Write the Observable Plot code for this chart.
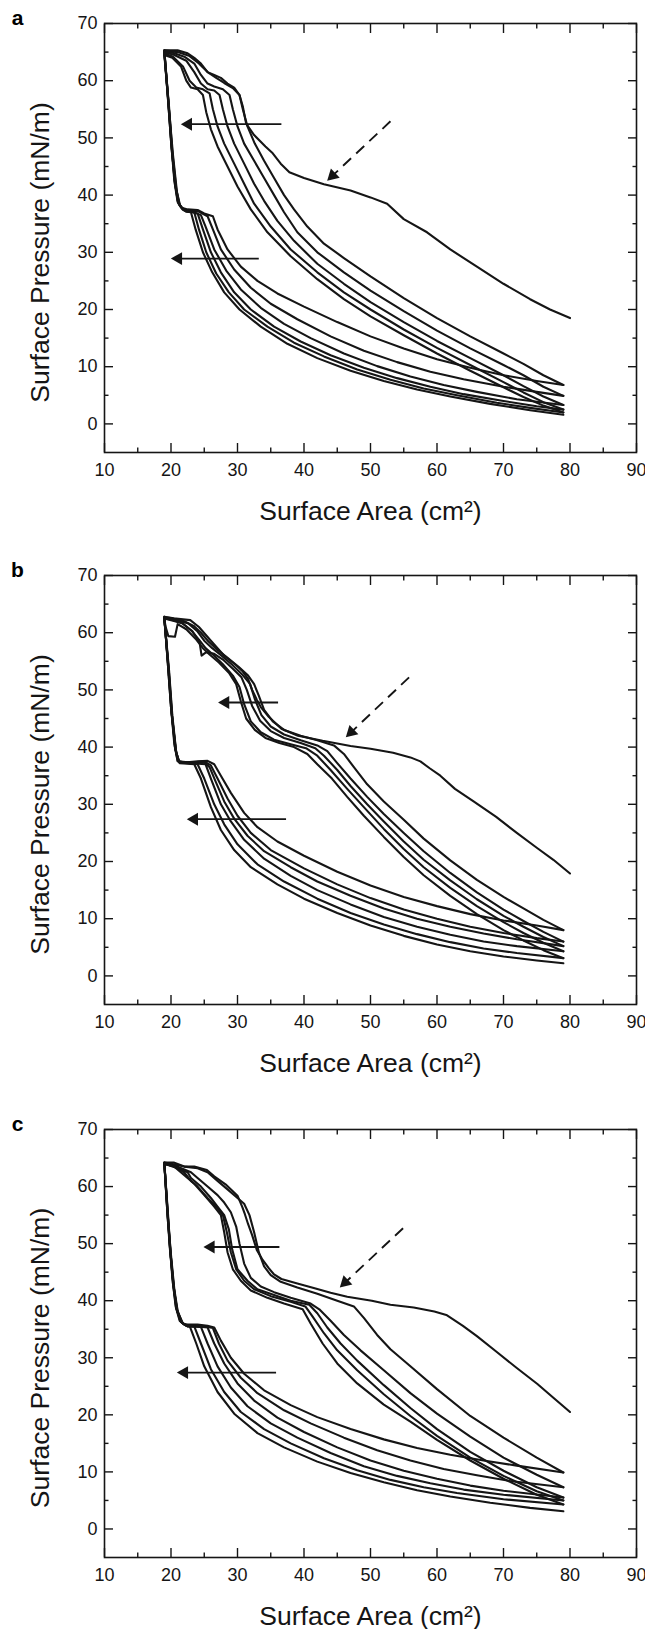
<!DOCTYPE html>
<html>
<head>
<meta charset="utf-8">
<script src="https://cdn.jsdelivr.net/npm/d3@7"></script>
<script src="https://cdn.jsdelivr.net/npm/@observablehq/plot@0.6"></script>
<style>
  html, body { margin: 0; padding: 0; background: #fff; }
  #chart { width: 645px; }
  #chart svg { display: block; }
</style>
</head>
<body>
<div id="chart"></div>
<script>
// ---------- axis ticks ----------
const xMajor = [10, 20, 30, 40, 50, 60, 70, 80, 90];
const xMinor = [15, 25, 35, 45, 55, 65, 75, 85];
const yMajor = [0, 10, 20, 30, 40, 50, 60, 70];
const yMinor = [5, 15, 25, 35, 45, 55, 65];
const panelLabels = ["a", "b", "c"];
const xTitle = "Surface Area (cm²)";
const yTitle = "Surface Pressure (mN/m)";

// ---------- panel a : [area, pressure] ----------
const a_C1 = [[80,18.5],[77,20],[74,21.8],[70,24.5],[66,27.5],[62,30.5],[58.5,33.5],[55,35.8],[52.5,38.5],[50,39.6],[47,40.8],[43,41.9],[40,43],[37.8,44],[36.5,45.5],[35.3,47.3],[34.2,48.5],[32.5,50.5],[31.3,52.5],[30.8,55.5],[30.3,57.5],[29.5,58.8],[28.5,59.5],[27.5,60.5],[26.5,61],[25.5,61.5],[24.5,63],[23.5,64],[22.5,64.8],[21,65.3],[19,65.3]];
const a_C2 = [[79,6.8],[76,8.5],[73,10.5],[70,12.3],[65,15.3],[60,18.5],[55,22],[50,25.8],[46,29],[43,31.5],[40.5,34.5],[38.5,37.5],[37,40],[35.5,43],[34,46],[32.6,49],[31.5,52],[30.8,55],[30.3,57.5],[29.3,58.7],[28,59.6],[26.8,60.5],[25.5,61.5],[24.2,63],[22.8,64.3],[21,65],[19,65.3]];
const a_C3 = [[79,4.9],[76,6.5],[73,8.5],[70,10.3],[65,13.2],[60,16.3],[55,19.7],[50,23.3],[46,26.5],[42,30],[39,33.5],[37,37],[35.5,40],[34,43],[32.5,46],[31,49],[30,52],[29.3,55],[28.8,57.5],[27.8,58.5],[26.5,59],[25.5,59.5],[24.5,61],[23.5,63],[22,64.2],[20.5,64.8],[19,65.2]];
const a_C4 = [[79,3.3],[76,4.8],[73,6.6],[70,8.5],[65,11.5],[60,14.5],[55,17.8],[50,21.3],[46,24.5],[42,28],[38.5,32],[36,35.5],[34,39],[32.5,42],[31,45.5],[29.5,49],[28.5,52],[27.8,55],[27.3,57.5],[26.5,58.3],[25.5,58.5],[24.5,59.5],[23.5,61.5],[22.3,63.5],[20.5,64.5],[19,65]];
const a_C5 = [[79,2.5],[76,3.8],[73,5.5],[70,7.3],[65,10.3],[60,13.3],[55,16.5],[50,20],[46,23],[42,26.5],[38,30.5],[35,34.5],[32.5,38.5],[31,42],[29.5,45.5],[28,49],[27,52],[26.3,55],[25.8,57.8],[24.8,58.5],[23.8,58.8],[22.8,60],[21.8,62.5],[20.3,64.2],[19,64.8]];
const a_C6 = [[79,2.0],[76,3.2],[73,4.7],[70,6.4],[65,9.3],[60,12.3],[55,15.5],[50,18.8],[46,21.8],[42,25.3],[38,29.3],[34.5,33.5],[32,37.5],[30,41.5],[28.5,45],[27,48.5],[26,51.5],[25.3,54.5],[24.8,57.5],[24,58.5],[23,58.8],[22.3,60],[21.5,62.5],[20.2,64],[19,64.5]];
const a_E1 = [[19,65.3],[19.5,58],[20,50],[20.5,43],[21,39],[21.6,37.8],[22.5,37.5],[24,37.4],[25,36.8],[26.3,36.3],[27,34],[28.5,30.5],[30.5,27.5],[33,25],[36,22.8],[40,20.5],[45,17.8],[50,15.3],[55,13.2],[60,11.3],[65,9.8],[70,8.5],[75,7.5],[79,6.8]];
const a_E2 = [[19,65.2],[19.5,57.5],[20,49.5],[20.5,42.5],[21,38.8],[21.7,37.6],[22.5,37.3],[24,37.2],[25.5,36.3],[26.3,34],[27.5,30.5],[29.5,27],[32,23.8],[35,21],[39,18.3],[44,15.3],[49,12.8],[54,10.8],[59,9.1],[64,7.8],[70,6.5],[75,5.6],[79,4.9]];
const a_E3 = [[19,65.1],[19.6,56.5],[20.1,48.5],[20.6,42],[21.1,38.6],[21.8,37.4],[23,37.2],[24.5,36.5],[25.2,34.5],[26.5,30.5],[28.3,26.8],[30.5,23.5],[33.5,20.3],[37,17.5],[41,15],[46,12.3],[51,10.1],[56,8.3],[61,6.8],[66,5.6],[72,4.3],[79,3.3]];
const a_E4 = [[19,65],[19.6,56],[20.1,48],[20.7,41.5],[21.2,38.4],[22,37.3],[24,36.8],[24.8,34],[26,30],[27.5,26.5],[29.5,23],[32,20],[35.5,17],[39.5,14.4],[44,12],[49,9.8],[54,8],[59,6.5],[64,5.2],[70,4],[75,3.1],[79,2.5]];
const a_E5 = [[19,64.8],[19.7,55.5],[20.2,47.5],[20.8,41],[21.3,38.2],[22.2,37.2],[23.5,37],[24.2,34],[25.3,30],[26.8,26.3],[28.7,23],[31,20],[34.5,17],[38.5,14.2],[43,11.8],[48,9.5],[53,7.7],[58,6.2],[63,5],[69,3.7],[74,2.8],[79,2.0]];
const a_E6 = [[19,64.5],[19.7,55],[20.3,47],[20.9,40.5],[21.4,38],[22.3,37.1],[23,37],[23.7,34],[24.8,30],[26.2,26.5],[28,23],[30.3,20],[33.5,17],[37.5,14],[42,11.5],[47,9.3],[52,7.5],[57,6],[62,4.8],[68,3.5],[74,2.4],[79,1.6]];
const a_solidArrows = [{x1: 36.6, y1: 52.4, x2: 22.6, y2: 52.4}, {x1: 33.2, y1: 28.9, x2: 21.1, y2: 28.9}];
const a_dashArrow = [{x1: 53, y1: 52.9, x2: 44.3, y2: 43.4}];

// ---------- panel b ----------
const b_C1 = [[80,17.9],[77.5,20.3],[75,22.4],[72,25],[68.9,27.8],[65.5,30.5],[62.7,32.7],[60.5,35],[58.9,36.3],[57.5,37.5],[56,38.2],[53.4,39],[50,39.7],[47,40.2],[42.8,41.1],[39.1,42],[36.6,43.2],[34.7,45.3],[33.5,47],[32.9,48.3],[32.2,50],[31.6,51.9],[30.8,53.2],[29.8,54.3],[27.9,56.1],[26,58.6],[24.2,61],[22.9,62.2],[20.4,62.5],[19,62.8]];
const b_C2 = [[79,8.0],[76,9.8],[73,11.8],[70,13.8],[66,16.8],[62,20.2],[58,24],[55,27.3],[52,30.5],[49.5,33.5],[47.5,36.5],[46,38.8],[44.5,40.3],[42,41.2],[39.5,42],[37,43],[35.3,44.5],[34,46.5],[33.2,49],[32.5,51],[31.6,52.5],[30.2,54],[28.6,55.5],[27,57],[25.6,58.5],[24.5,60],[23.4,61.2],[22,62],[20.3,62.5],[19,62.7]];
const b_C3 = [[79,6.0],[76,7.7],[73,9.6],[70,11.6],[66,14.6],[62,18],[58,21.8],[55,25],[52,28.3],[49.5,31.3],[47,34.5],[45,37.2],[43.5,39.3],[42,40.3],[39.5,41.2],[37,42.2],[35,43.6],[33.6,45.6],[32.6,48.4],[31.9,51],[30.7,52.7],[29.2,54.4],[27.6,56],[26.2,57.3],[25,58.6],[24,60.2],[22.6,61.6],[20.6,62.3],[19,62.6]];
const b_C4 = [[79,5.2],[76,6.8],[73,8.6],[70,10.5],[66,13.4],[62,16.7],[58,20.3],[55,23.5],[52,27],[49.5,30],[47,33.2],[45,36],[43,38.5],[41.7,39.8],[39.5,40.7],[37,41.6],[35,42.8],[33.4,44.6],[32.2,47.2],[31.4,50],[30.6,52.2],[29.3,53.7],[27.8,55.3],[26.5,56.3],[25.3,56.6],[24.6,56],[24.3,58.3],[23.2,60.3],[21.6,61.7],[19,62.5]];
const b_C5 = [[79,4.3],[76,5.8],[73,7.5],[70,9.4],[66,12.2],[62,15.4],[58,19],[55,22.2],[52,25.7],[49,29.5],[46.5,32.7],[44,36],[42,38.5],[40.3,39.8],[38,40.5],[35.5,41.3],[33.5,42.6],[32,44.5],[31,47.5],[30.3,50.5],[29.3,52.5],[27.8,54.5],[26.3,56.2],[25.2,57.3],[24.2,58.8],[23.2,60.2],[21.8,61.6],[20,62.3],[19,62.5]];
const b_C6 = [[79,3.1],[76,4.5],[73,6.2],[70,8],[66,10.8],[62,14],[58,17.6],[55,20.8],[52,24.3],[49,28],[46.5,31.3],[44.2,34.5],[42,37],[40.5,38.8],[38.5,40],[36.3,40.7],[34.2,41.6],[32.6,43],[31.3,45],[30.5,48],[29.8,51],[28.7,53],[27.2,54.8],[25.8,56.2],[24.8,57.3],[23.8,58.8],[22.3,60.6],[21,61.5],[20.6,59.3],[19.6,59.4],[19.2,61],[19,62.3]];
const b_E1 = [[19,62.8],[19.5,55],[20,47],[20.5,40.5],[21,37.6],[22,37.3],[24,37.5],[25.5,37.6],[26.5,37],[27.5,35],[29,32],[31,28.5],[33,26],[36,23.5],[40,21],[45,18.2],[50,15.8],[55,13.8],[60,12.2],[65,10.8],[70,9.7],[75,8.8],[79,8.0]];
const b_E2 = [[19,62.7],[19.5,55],[20,47],[20.6,40],[21,37.5],[23,37.3],[25,37.5],[26,36.8],[27,34.5],[28.5,31],[30,28],[32,25],[35,22],[40,18.8],[45,16],[50,13.6],[55,11.6],[60,10],[65,8.6],[70,7.5],[75,6.6],[79,6.0]];
const b_E3 = [[19,62.6],[19.6,54],[20.1,46],[20.7,39.5],[21.2,37.4],[23,37.3],[25,37.3],[25.8,36.5],[26.7,34],[28,30.5],[29.5,27.5],[31.5,24.5],[34,21.8],[38,19],[42,16.5],[47,14],[52,11.8],[57,10],[62,8.6],[67,7.4],[72,6.4],[79,5.2]];
const b_E4 = [[19,62.5],[19.6,54],[20.1,46],[20.7,39.5],[21.2,37.4],[23,37.2],[25.2,37],[26,34.5],[27.5,30],[29,27],[31,23.8],[34,20.5],[38,17.5],[42,15],[47,12.5],[52,10.3],[57,8.6],[62,7.2],[67,6],[72,5.2],[79,4.3]];
const b_E5 = [[19,62.5],[19.7,53.5],[20.2,45.5],[20.8,39],[21.3,37.3],[22.5,37.2],[24,37],[25,34.5],[26.5,30],[28,26.5],[30,23],[33,19.5],[37,16.5],[42,13.5],[47,11],[52,9],[57,7.3],[62,5.9],[67,4.8],[72,4],[79,3.1]];
const b_E6 = [[19,62.3],[19.7,53],[20.2,45],[20.8,38.8],[21.3,37.2],[22.5,37.1],[23.5,37],[24.5,34.5],[26,29.5],[27.5,25.5],[29.5,22],[32,19],[36,16],[40,13.5],[45,11],[50,8.8],[55,7],[60,5.5],[65,4.3],[70,3.4],[75,2.7],[79,2.2]];
const b_solidArrows = [{x1: 36.1, y1: 47.8, x2: 28.2, y2: 47.8}, {x1: 37.3, y1: 27.4, x2: 23.5, y2: 27.4}];
const b_dashArrow = [{x1: 55.8, y1: 52.2, x2: 47.1, y2: 42.6}];

// ---------- panel c ----------
const c_C1 = [[80,20.5],[77.5,23],[75.1,25.4],[72,28.2],[68.9,31.1],[66,33.8],[63.9,35.6],[61.4,37.5],[59.6,38.1],[56.5,38.8],[53,39.3],[50.2,40],[46.5,40.7],[44,41.4],[41.6,42.2],[39,43],[36.6,43.8],[35.5,44.6],[34.7,45.7],[33.7,47.3],[32.9,48.9],[32.2,51.5],[31.6,53.4],[31.1,55.2],[30.7,56.5],[30,58.4],[28.2,60.4],[26.5,61.8],[25.4,62.9],[23.5,63.5],[22,63.5],[20.4,64.2],[19,64.2]];
const c_C2 = [[79,9.9],[75,12.5],[70,16],[65,19.8],[60,24.5],[56,28.5],[53,31.5],[51,34],[49,37],[47.5,39],[45,40],[42,41.2],[39,42.3],[36.5,43.3],[35,44.5],[34,46],[33.2,48.5],[32.5,52],[31.8,55],[31,57],[30,58],[28.5,59.5],[27,61],[25.5,62.5],[24,63.2],[22,63.5],[20,64],[19,64.2]];
const c_C3 = [[79,7.3],[75,9.5],[70,12.5],[65,16.2],[60,20.2],[56,23.8],[52,27.8],[48.5,31.3],[46,34],[44,36.5],[42.3,38.5],[41,39.5],[38,40.5],[35.5,41.5],[33.5,42.5],[32,44],[31,46.5],[30.3,50],[29.8,53],[29,55.5],[28,57.2],[27,58.5],[25.5,60],[24,61.5],[23,62.5],[21,63.5],[19,64]];
const c_C4 = [[79,5.5],[75,7.3],[70,10.2],[65,13.5],[60,17.5],[56,21.2],[52,25.2],[48,29.5],[45.5,32.5],[43.5,35.3],[42,37.8],[40.8,39.3],[38,40],[35.5,41],[33,42],[31.5,43.5],[30,45.5],[29.2,49],[28.7,52.5],[28,55],[27,56.5],[26,58],[24.5,60],[23,61.5],[22.5,62.5],[21,63.2],[19,64]];
const c_C5 = [[79,5.0],[75,6.6],[70,9.3],[65,12.5],[60,16.3],[56,19.8],[52,23.6],[48,27.8],[45,31.3],[43,34.3],[41.3,37.2],[40.2,39],[38,39.8],[35,40.8],[32.5,42],[31,43.5],[29.8,45.5],[29,48.5],[28.4,52],[27.8,55],[26.8,56.5],[25.5,58],[24,60],[23,61],[22,62.5],[20.5,63.5],[19,64]];
const c_C6 = [[79,4.3],[75,6],[70,8.8],[65,12],[60,15.6],[56,18.8],[52,21.8],[48,25.5],[45,29],[42.8,32.5],[41,36],[39.8,38.5],[37,39.5],[34.5,40.5],[32,41.8],[30.5,43.5],[29.3,45.5],[28.5,48.5],[28,52],[27.5,55],[26.5,56.5],[25,58.5],[23.5,60.5],[22,62],[20.5,63.5],[19,64]];
const c_E1 = [[19,64.2],[19.4,57],[19.8,50],[20.2,44],[20.7,39],[21.3,36.5],[22,35.8],[24,35.8],[25.5,35.6],[26.5,35.3],[27.5,33],[29,30],[31,27.2],[34,24.3],[38,21.7],[42,19.6],[47,17.5],[52,15.7],[57,14.2],[62,13],[67,12],[72,11.1],[79,9.9]];
const c_E2 = [[19,64.1],[19.4,56.5],[19.8,49.5],[20.3,43.5],[20.8,38.8],[21.4,36.4],[22.2,35.7],[24.5,35.6],[26.3,35.2],[27.2,32.5],[28.5,29.5],[30.5,26.5],[33,23.8],[37,20.8],[41,18.5],[46,16],[51,13.8],[56,12],[61,10.5],[66,9.4],[71,8.4],[79,7.3]];
const c_E3 = [[19,64],[19.5,56],[19.9,49],[20.3,43],[20.8,38.6],[21.5,36.3],[22.3,35.6],[24,35.5],[25.5,35.3],[26.5,32.5],[28,29],[30,25.5],[32.5,22.5],[36,19.5],[40,17],[45,14.3],[50,12],[55,10.2],[60,8.8],[65,7.6],[70,6.7],[79,5.5]];
const c_E4 = [[19,64],[19.5,55.5],[19.9,48.5],[20.4,42.5],[20.9,38.4],[21.6,36.2],[22.5,35.5],[24.5,35.4],[25.5,32.5],[27,28.5],[29,24.8],[31.5,21.5],[35,18.5],[39,16],[44,13.3],[49,11],[54,9.3],[59,8],[64,6.9],[70,6],[79,5.0]];
const c_E5 = [[19,64],[19.5,55],[20,48],[20.5,42],[21,38.2],[21.7,36.1],[22.5,35.5],[23.5,35.5],[24.5,32.5],[26,28],[28,24],[30.5,20.5],[34,17.5],[38,15],[43,12.4],[48,10.3],[53,8.6],[58,7.3],[63,6.3],[70,5.2],[79,4.3]];
const c_E6 = [[19,64],[19.5,54.5],[20,47.5],[20.5,41.5],[21,38],[21.8,36],[22.8,35.6],[23.8,32.5],[25,28.5],[27,24],[29.5,20.2],[33,16.8],[37,14.3],[42,11.8],[47,9.8],[52,8.2],[57,6.8],[62,5.7],[68,4.6],[74,3.7],[79,3.1]];
const c_solidArrows = [{x1: 36.3, y1: 49.4, x2: 26, y2: 49.4}, {x1: 35.8, y1: 27.4, x2: 22, y2: 27.4}];
const c_dashArrow = [{x1: 54.9, y1: 52.7, x2: 46.2, y2: 43.2}];

// ---------- drawing ----------
const W = 645, ML = 104, MR = 9;
const INK = "#151515";
const FONT = "'Liberation Sans', Arial, Helvetica, sans-serif";

function panel({label, curves, solid, dashed, height, marginTop, marginBottom}) {
  const sx = (W - ML - MR) / 80;
  const sy = (height - marginTop - marginBottom) / 75;
  const angle = d => Math.atan2((d.x2 - d.x1) * sx, (d.y2 - d.y1) * sy) * 180 / Math.PI;
  const noText = () => "";
  const tickOpts = {tickFormat: noText, label: null, strokeWidth: 1.4};
  const marks = [
    Plot.frame({stroke: INK, strokeWidth: 1.6}),
    // inward major/minor ticks on all four sides
    Plot.axisX(xMajor, {anchor: "bottom", tickSize: -9, ...tickOpts}),
    Plot.axisX(xMinor, {anchor: "bottom", tickSize: -4.5, ...tickOpts}),
    Plot.axisX(xMajor, {anchor: "top", tickSize: -9, ...tickOpts}),
    Plot.axisX(xMinor, {anchor: "top", tickSize: -4.5, ...tickOpts}),
    Plot.axisY(yMajor, {anchor: "left", tickSize: -9, ...tickOpts}),
    Plot.axisY(yMinor, {anchor: "left", tickSize: -4.5, ...tickOpts}),
    Plot.axisY(yMajor, {anchor: "right", tickSize: -9, ...tickOpts}),
    Plot.axisY(yMinor, {anchor: "right", tickSize: -4.5, ...tickOpts}),
    // tick labels
    Plot.axisX(xMajor, {anchor: "bottom", tickSize: 0, tickPadding: 10.5, label: null, fontSize: 18}),
    Plot.axisY(yMajor, {anchor: "left", tickSize: 0, tickPadding: 7, label: null, fontSize: 18}),
    // isotherm curves
    ...curves.map(c => Plot.line(c, {x: d => d[0], y: d => d[1], stroke: INK, strokeWidth: 2.1, strokeLinejoin: "round"})),
    // arrows
    Plot.link(solid, {x1: "x1", y1: "y1", x2: "x2", y2: "y2", stroke: INK, strokeWidth: 1.9}),
    Plot.dot(solid, {x: "x2", y: "y2", symbol: "triangle", r: 4.8, fill: INK, stroke: null, rotate: angle}),
    Plot.link(dashed, {x1: "x1", y1: "y1", x2: "x2", y2: "y2", stroke: INK, strokeWidth: 1.9, strokeDasharray: "11,7"}),
    Plot.dot(dashed, {x: "x2", y: "y2", symbol: "triangle", r: 4.8, fill: INK, stroke: null, rotate: angle}),
    // titles
    Plot.text([yTitle], {frameAnchor: "left", textAnchor: "middle", lineAnchor: "middle", rotate: -90, dx: -64, dy: 14.5, fontSize: 26.5, fill: INK}),
    Plot.text([xTitle], {frameAnchor: "bottom", textAnchor: "middle", lineAnchor: "middle", dy: 59, fontSize: 26.5, fill: INK}),
    Plot.text([label], {frameAnchor: "top-left", textAnchor: "middle", lineAnchor: "middle", dx: -87, dy: -5, fontSize: 21, fontWeight: "bold", fill: "#000"})
  ];
  return Plot.plot({
    width: W, height, marginLeft: ML, marginRight: MR, marginTop, marginBottom,
    x: {domain: [10, 90]},
    y: {domain: [-5, 70]},
    style: {fontFamily: FONT, fontSize: "18px", color: INK, background: "#fff", overflow: "visible"},
    marks
  });
}

const chart = document.getElementById("chart");
chart.append(panel({label: panelLabels[0], height: 552, marginTop: 23, marginBottom: 100,
  curves: [a_C1, a_E1, a_C2, a_E2, a_C3, a_E3, a_C4, a_E4, a_C5, a_E5, a_C6, a_E6],
  solid: a_solidArrows, dashed: a_dashArrow}));
chart.append(panel({label: panelLabels[1], height: 552, marginTop: 23, marginBottom: 100,
  curves: [b_C1, b_E1, b_C2, b_E2, b_C3, b_E3, b_C4, b_E4, b_C5, b_E5, b_C6, b_E6],
  solid: b_solidArrows, dashed: b_dashArrow}));
chart.append(panel({label: panelLabels[2], height: 525, marginTop: 25, marginBottom: 72,
  curves: [c_C1, c_E1, c_C2, c_E2, c_C3, c_E3, c_C4, c_E4, c_C5, c_E5, c_C6, c_E6],
  solid: c_solidArrows, dashed: c_dashArrow}));
</script>
</body>
</html>
